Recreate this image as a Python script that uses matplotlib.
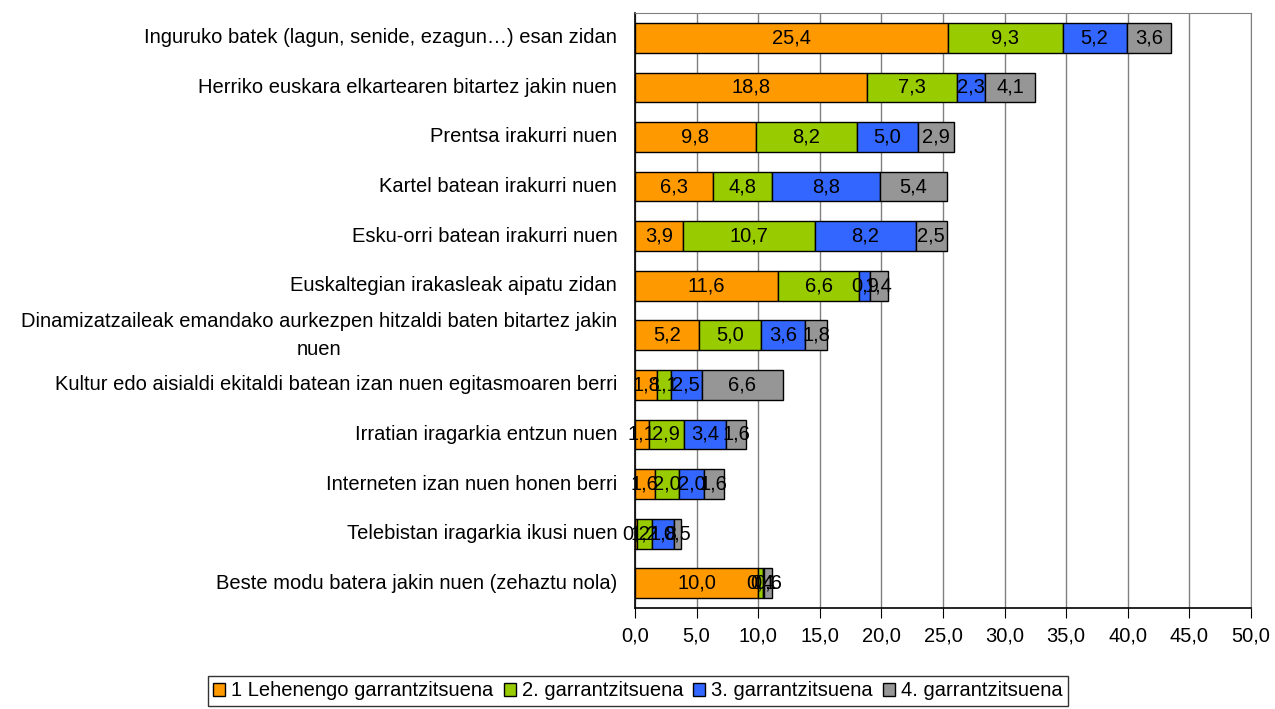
import matplotlib.pyplot as plt
import numpy as np

plt.rcParams['font.family'] = ['Liberation Sans', 'DejaVu Sans']

categories = [
    'Inguruko batek (lagun, senide, ezagun…) esan zidan',
    'Herriko euskara elkartearen bitartez jakin nuen',
    'Prentsa irakurri nuen',
    'Kartel batean irakurri nuen',
    'Esku-orri batean irakurri nuen',
    'Euskaltegian irakasleak aipatu zidan',
    'Dinamizatzaileak emandako aurkezpen hitzaldi baten bitartez jakin\nnuen',
    'Kultur edo aisialdi ekitaldi batean izan nuen egitasmoaren berri',
    'Irratian iragarkia entzun nuen',
    'Interneten izan nuen honen berri',
    'Telebistan iragarkia ikusi nuen',
    'Beste modu batera jakin nuen (zehaztu nola)',
]
first = [25.4, 18.8, 9.8, 6.3, 3.9, 11.6, 5.2, 1.8, 1.1, 1.6, 0.2, 10.0]
second = [9.3, 7.3, 8.2, 4.8, 10.7, 6.6, 5.0, 1.1, 2.9, 2.0, 1.2, 0.4]
third = [5.2, 2.3, 5.0, 8.8, 8.2, 0.9, 3.6, 2.5, 3.4, 2.0, 1.8, 0.1]
fourth = [3.6, 4.1, 2.9, 5.4, 2.5, 1.4, 1.8, 6.6, 1.6, 1.6, 0.5, 0.6]
series_names = ['1 Lehenengo garrantzitsuena', '2. garrantzitsuena',
                '3. garrantzitsuena', '4. garrantzitsuena']
colors = ['#FF9900', '#99CC00', '#3366FF', '#969696']

fs = 14.5

fig = plt.figure(figsize=(12.75, 7.09), dpi=100)
ax = fig.add_axes([635 / 1275, 1 - 608 / 709, 616 / 1275, 595 / 709])

y = np.arange(len(categories))
left = np.zeros(len(categories))
for vals, name, col in zip([first, second, third, fourth], series_names, colors):
    vals = np.array(vals)
    ax.barh(y, vals, left=left, height=0.6, color=col,
            edgecolor='black', linewidth=1, label=name, zorder=3)
    for v, l, yy in zip(vals, left, y):
        ax.text(l + v / 2, yy, f'{v:.1f}'.replace('.', ','),
                ha='center', va='center', fontsize=fs, zorder=4)
    left = left + vals

ax.set_ylim(len(categories) - 0.5, -0.5)
ax.set_xlim(0, 50)
ax.set_xticks(np.arange(0, 51, 5))
ax.set_xticklabels([f'{t:.1f}'.replace('.', ',') for t in np.arange(0, 51, 5)],
                   fontsize=fs)
ax.set_yticks(y)
ax.set_yticklabels(categories, fontsize=fs, ha='center', va='center',
                   multialignment='center', linespacing=1.6)
ax.tick_params(axis='y', length=0, pad=0)
# centre the category labels so their right edge sits near the axis
fig.canvas.draw()
renderer = fig.canvas.get_renderer()
for lab in ax.get_yticklabels():
    bb = lab.get_window_extent(renderer)
    w = bb.width / 616
    lab.set_position((-0.029 - w / 2, 0))
ax.tick_params(axis='x', length=7, pad=6, direction='out')
ax.xaxis.grid(True, color='#808080', linewidth=1, zorder=0)
ax.spines['right'].set_color('#808080')
ax.spines['top'].set_color('#808080')
ax.spines['left'].set_linewidth(1.2)
ax.spines['bottom'].set_linewidth(1.2)

leg = fig.legend(loc='center', bbox_to_anchor=(638 / 1275, 1 - 691 / 709),
                 ncol=4, fontsize=fs, frameon=True, fancybox=False,
                 edgecolor='black', handlelength=0.6, handleheight=0.6,
                 handletextpad=0.3, columnspacing=0.5, borderpad=0.25)
leg.get_frame().set_linewidth(1)

fig.savefig('out.png', dpi=100)
